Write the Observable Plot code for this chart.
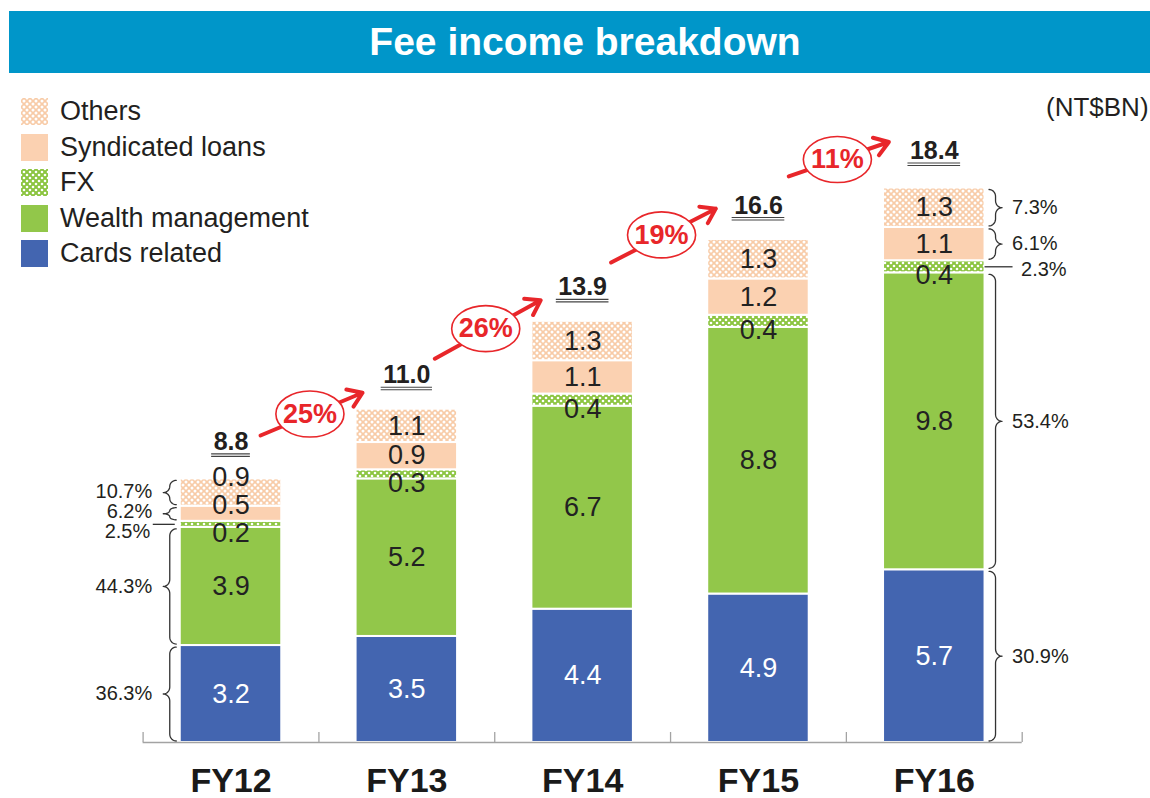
<!DOCTYPE html>
<html>
<head>
<meta charset="utf-8">
<script src="https://cdn.jsdelivr.net/npm/d3@7"></script>
<script src="https://cdn.jsdelivr.net/npm/@observablehq/plot@0.6"></script>
<style>
  body { margin: 0; background: #fff; font-family: "Liberation Sans", Arial, sans-serif; }
  #wrap { position: relative; width: 1150px; height: 798px; overflow: hidden; }
  #title { position: absolute; left: 9px; top: 11px; width: 1141px; height: 62px; box-sizing: border-box; padding-left: 11px;
           background: #0096c9; color: #fff; font-weight: bold; font-size: 39px; line-height: 62px; text-align: center; }
  #chart { position: absolute; left: 0; top: 80px; }
  .lg { position: absolute; left: 21px; display: flex; align-items: center; height: 27px; font-size: 27px; color: #231f20; white-space: nowrap; }
  .lg svg { margin-right: 12px; flex: none; }
  #unit { position: absolute; left: 1046px; top: 93px; font-size: 26px; line-height: 28px; color: #231f20; white-space: nowrap; }
</style>
</head>
<body>
<div id="wrap">
  <div id="title"></div>
  <div id="chart"></div>
  <div id="legend"></div>
  <div id="unit"></div>
</div>
<script>
// ---------------- data ----------------
const title = "Fee income breakdown";
const unitLabel = "(NT$BN)";
const years = ["FY12", "FY13", "FY14", "FY15", "FY16"];
const series = ["Cards related", "Wealth management", "FX", "Syndicated loans", "Others"];
const cards      = [3.2, 3.5, 4.4, 4.9, 5.7];
const wealth     = [3.9, 5.2, 6.7, 8.8, 9.8];
const fx         = [0.2, 0.3, 0.4, 0.4, 0.4];
const syndicated = [0.5, 0.9, 1.1, 1.2, 1.1];
const others     = [0.9, 1.1, 1.3, 1.3, 1.3];
const totals     = [8.8, 11.0, 13.9, 16.6, 18.4];
const growth     = ["25%", "26%", "19%", "11%"];
const sharesFirst = ["36.3%", "44.3%", "2.5%", "6.2%", "10.7%"];   // FY12, by series
const sharesLast  = ["30.9%", "53.4%", "2.3%", "6.1%", "7.3%"];    // FY16, by series
const legendOrder = ["Others", "Syndicated loans", "FX", "Wealth management", "Cards related"];

// ---------------- styling ----------------
const FONT = "Liberation Sans, Arial, Helvetica, sans-serif";
const RED = "#e8262a";
const fills = ["#4365b0", "#92c74a", "url(#pFX)", "#fbd1b1", "url(#pOthers)"];
const legendFills = {"Cards related": "#4365b0", "Wealth management": "#92c74a", "FX": "url(#pFX)", "Syndicated loans": "#fbd1b1", "Others": "url(#pOthers)"};

// layout of the scales (pixels inside the SVG)
const W = 1150, H = 718;
const XL = 142.6, XR = 1021.7;         // x range for domain [-0.5, 4.5]
const BASE = 662, PXU = 30.3;          // baseline and px per NT$BN
const xPerPx = 5 / (XR - XL);
const yPerPx = 1 / PXU;
const BW = 50.75 * xPerPx;             // half bar width in x units

document.getElementById("title").textContent = title;
document.getElementById("unit").textContent = unitLabel;

// ---------------- derived tables ----------------
const values = [cards, wealth, fx, syndicated, others];
const segs = [];
years.forEach((yr, i) => {
  let acc = 0;
  let prevLabel = -Infinity;           // label position (px above baseline) of the segment below
  series.forEach((s, k) => {
    const v = values[k][i];
    const y1 = acc, y2 = acc + v;
    // label position in px above the baseline: centred, FX nudged below, small labels kept apart
    let lp = (y1 + y2) / 2 * PXU - (s === "FX" ? 9 : 0);
    lp = Math.max(lp, prevLabel + 28);
    prevLabel = lp;
    segs.push({i, year: yr, series: s, k, v, y1, y2, ly: lp * yPerPx});
    acc = y2;
  });
});

// braces + share labels for first and last year
function bracePoints(xEdge, side, yLo, yHi, id) {
  const x0 = xEdge + side * 4 * xPerPx;
  const w = 13 * xPerPx, hw = w / 2;
  const yA = yHi - 1.5 * yPerPx, yB = yLo + 1.5 * yPerPx;
  const ym = (yA + yB) / 2;
  const r = Math.min(7 * yPerPx, (yA - yB) / 4);
  const pts = [], N = 10, Q = Math.PI / 2;
  for (let j = 0; j <= N; j++) { const t = j / N * Q; pts.push([x0 + side * hw * Math.sin(t), yA - r + r * Math.cos(t)]); }
  for (let j = 0; j <= N; j++) { const t = j / N * Q; pts.push([x0 + side * w - side * hw * Math.cos(t), ym + r - r * Math.sin(t)]); }
  for (let j = 0; j <= N; j++) { const t = j / N * Q; pts.push([x0 + side * w - side * hw * Math.sin(t), ym - r + r * Math.cos(t)]); }
  for (let j = 0; j <= N; j++) { const t = j / N * Q; pts.push([x0 + side * hw * Math.cos(t), yB + r - r * Math.sin(t)]); }
  return pts.map(([x, y]) => ({x, y, id}));
}
const braceLines = [], fxLines = [], shareLabels = [];
[[0, -1, sharesFirst], [years.length - 1, 1, sharesLast]].forEach(([i, side, shares]) => {
  const edge = i + side * BW;
  let prev = -Infinity;                // keep share labels at least 20px apart
  segs.filter(d => d.i === i).forEach(d => {
    const mid = (d.y1 + d.y2) / 2;
    let lp = mid * PXU;
    if (d.series === "FX") {
      const a = side < 0 ? edge - 5 * xPerPx : edge;
      const b = side < 0 ? edge - 27 * xPerPx : edge + 28 * xPerPx;
      fxLines.push({y: mid, x1: a, x2: b});
      lp -= side < 0 ? 7 : 3;
      lp = Math.max(lp, prev + 20); prev = lp;
      shareLabels.push({x: side < 0 ? edge - 30 * xPerPx : edge + 36 * xPerPx, y: lp * yPerPx, text: shares[d.k], side});
    } else {
      braceLines.push(...bracePoints(edge, side, d.y1, d.y2, `${i}-${d.k}`));
      lp = Math.max(lp, prev + 20); prev = lp;
      shareLabels.push({x: side < 0 ? edge - 28 * xPerPx : edge + 27 * xPerPx, y: lp * yPerPx, text: shares[d.k], side});
    }
  });
});

// total labels with double underline
const ctx = document.createElement("canvas").getContext("2d");
ctx.font = "bold 25px 'Liberation Sans'";
const totalRows = totals.map((t, i) => {
  const text = t.toFixed(1);
  const hw = (ctx.measureText(text).width / 2 + 2) * xPerPx;
  return {i, t, text, x1: i - hw, x2: i + hw};
});

// growth arrows between totals
const LIFT = 1.105;
const arrows = growth.map((g, i) => ({
  g, x1: i, x2: i + 1, y1: totals[i] * LIFT, y2: totals[i + 1] * LIFT,
  xm: i + 0.5, ym: (totals[i] + totals[i + 1]) / 2 * LIFT
}));

const ellipse = {
  draw(c, size) {
    const r = Math.sqrt(size / Math.PI);
    const rx = r * 1.48, ry = r, k = 0.5523;
    c.moveTo(rx, 0);
    c.bezierCurveTo(rx, ry * k, rx * k, ry, 0, ry);
    c.bezierCurveTo(-rx * k, ry, -rx, ry * k, -rx, 0);
    c.bezierCurveTo(-rx, -ry * k, -rx * k, -ry, 0, -ry);
    c.bezierCurveTo(rx * k, -ry, rx, -ry * k, rx, 0);
    c.closePath();
  }
};

const textBase = {fontSize: 20, fill: "#231f20", fontFamily: FONT};

// ---------------- chart ----------------
const chart = Plot.plot({
  width: W, height: H,
  margin: 0,
  style: {fontFamily: FONT, background: "transparent", overflow: "visible"},
  x: {domain: [-0.5, 4.5], range: [XL, XR], axis: null},
  y: {domain: [0, 20], range: [BASE, BASE - 20 * PXU], axis: null},
  color: {domain: series, range: fills},
  marks: [
    Plot.rect(segs, {x1: d => d.i - BW, x2: d => d.i + BW, y1: "y1", y2: "y2", fill: "series", stroke: "white", strokeWidth: 2}),
    Plot.ruleY([0], {x1: -0.5, x2: 4.5, stroke: "#a3a3a3", strokeWidth: 1.5}),
    Plot.ruleX(d3.range(-0.5, 5, 1), {y1: 0, y2: 10 * yPerPx, stroke: "#a3a3a3", strokeWidth: 1.3}),
    Plot.text(years, {x: (d, i) => i, y: 0, text: d => d, dy: 39, fontSize: 34, fontWeight: "bold", fill: "#1a1a1a", fontFamily: FONT}),
    // segment values
    Plot.text(segs, {x: "i", y: "ly", text: d => d.v.toFixed(1),
      fill: d => d.series === "Cards related" ? "white" : "#222", fontSize: 27, fontFamily: FONT}),
    // braces and share labels
    Plot.line(braceLines, {x: "x", y: "y", z: "id", stroke: "#333", strokeWidth: 1.3}),
    Plot.ruleY(fxLines, {y: "y", x1: "x1", x2: "x2", stroke: "#333", strokeWidth: 1.3}),
    Plot.text(shareLabels.filter(d => d.side < 0), {x: "x", y: "y", text: "text", textAnchor: "end", ...textBase}),
    Plot.text(shareLabels.filter(d => d.side > 0), {x: "x", y: "y", text: "text", textAnchor: "start", ...textBase}),
    // totals with double underline
    Plot.text(totalRows, {x: "i", y: "t", text: "text", dy: -34, fontSize: 25, fontWeight: "bold", fill: "#231f20", fontFamily: FONT}),
    Plot.ruleY(totalRows, {y: "t", x1: "x1", x2: "x2", dy: -22, stroke: "#444", strokeWidth: 1.1}),
    Plot.ruleY(totalRows, {y: "t", x1: "x1", x2: "x2", dy: -19.5, stroke: "#444", strokeWidth: 1.1}),
    // growth arrows
    Plot.arrow(arrows, {x1: "x1", y1: "y1", x2: "x2", y2: "y2", stroke: RED, strokeWidth: 4,
      headLength: 6.2, headAngle: 68, insetStart: 32, insetEnd: 48}),
    Plot.dot(arrows, {x: "xm", y: "ym", r: 23, symbol: ellipse, fill: "white", stroke: RED, strokeWidth: 1.6, dx: -9, dy: 3}),
    Plot.text(arrows, {x: "xm", y: "ym", text: "g", dx: -9, dy: 3, fill: RED, fontSize: 27, fontWeight: "bold", fontFamily: FONT})
  ]
});

const defs = `<defs>
  <pattern id="pOthers" width="6" height="6" patternUnits="userSpaceOnUse">
    <rect width="6" height="6" fill="#f8cba7"/>
    <circle cx="0" cy="0" r="1.5" fill="#fff"/><circle cx="6" cy="0" r="1.5" fill="#fff"/>
    <circle cx="0" cy="6" r="1.5" fill="#fff"/><circle cx="6" cy="6" r="1.5" fill="#fff"/>
    <circle cx="3" cy="3" r="1.5" fill="#fff"/>
  </pattern>
  <pattern id="pFX" width="6" height="6" patternUnits="userSpaceOnUse">
    <rect width="6" height="6" fill="#8cc541"/>
    <circle cx="0" cy="0" r="1.3" fill="#fff"/><circle cx="6" cy="0" r="1.3" fill="#fff"/>
    <circle cx="0" cy="6" r="1.3" fill="#fff"/><circle cx="6" cy="6" r="1.3" fill="#fff"/>
    <circle cx="3" cy="3" r="1.3" fill="#fff"/>
  </pattern>
</defs>`;
chart.insertAdjacentHTML("afterbegin", defs);
document.getElementById("chart").appendChild(chart);

// ---------------- legend ----------------
const legend = document.getElementById("legend");
legendOrder.forEach((name, j) => {
  const row = document.createElement("div");
  row.className = "lg";
  row.style.top = (98 + j * 35.5) + "px";
  row.innerHTML = `<svg width="27" height="27"><rect width="27" height="27" fill="${legendFills[name]}"/></svg><span>${name}</span>`;
  legend.appendChild(row);
});
</script>
</body>
</html>
